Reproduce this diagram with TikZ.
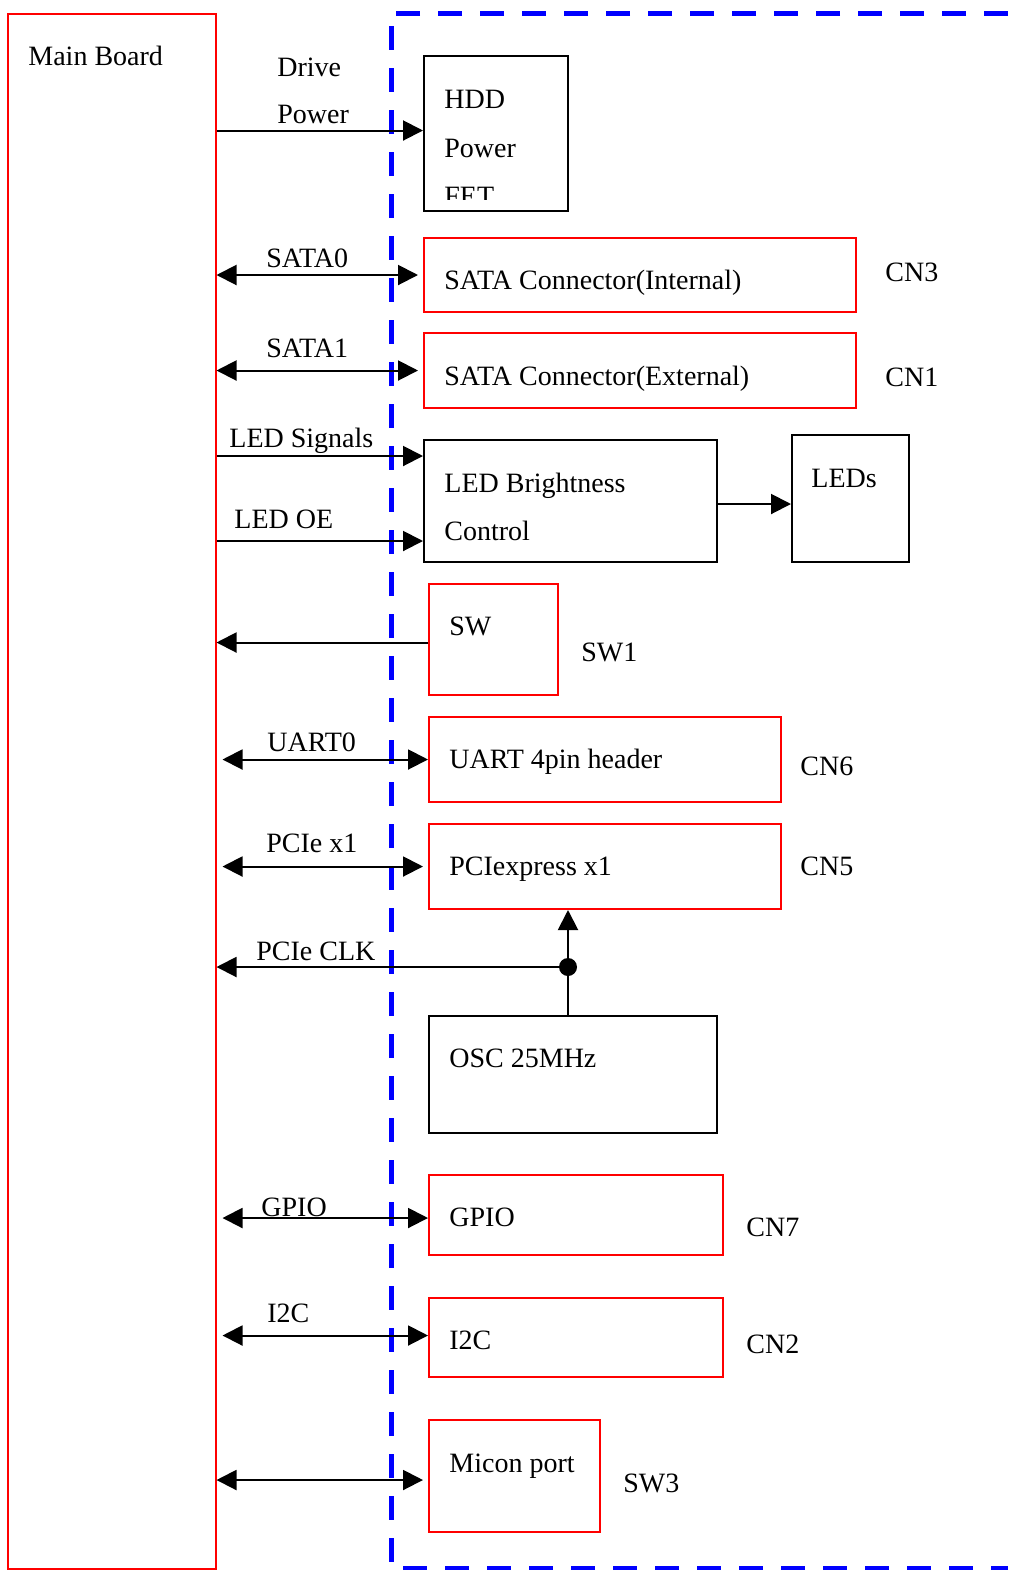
\documentclass[tikz,border=0pt]{standalone}
\usepackage{fontspec}
\setmainfont{Liberation Serif}
\usetikzlibrary{arrows.meta}

\begin{document}
\begin{tikzpicture}[x=0.5pt, y=-0.5pt,
  every node/.style={font=\fontsize{14}{16.8}\selectfont},
  txt/.style={anchor=base west, inner sep=0pt},
  blk/.style={draw=black, line width=1pt, anchor=north west, inner sep=0pt},
  rblk/.style={draw=red, line width=1pt, anchor=north west, inner sep=0pt},
  sig/.style={line width=1pt, -{Triangle[length=10pt, width=10pt]}},
  bus/.style={line width=1pt, {Triangle[length=10pt, width=10pt]}-{Triangle[length=10pt, width=10pt]}},
  jn/.style={circle, fill=black, inner sep=0pt, minimum size=9pt}]
  \useasboundingbox (0,0) rectangle (1008,1570);

  \draw[blue, line width=2.5pt, dash pattern=on 12pt off 9pt]
  (1008,13) -- (391,13) -- (391,1568) -- (1008,1568);

  \node[rblk, line width=0.75pt, minimum width=104pt, minimum height=777.5pt] (main) at (7,13) {};
  \node[txt] at (28,65) {Main Board};

  \node[blk, minimum width=72pt, minimum height=77.5pt] (hdd) at (423,55) {};
  \node[blk, minimum width=146.5pt, minimum height=61pt] (led) at (423,439) {};
  \node[blk, minimum width=58.5pt, minimum height=63.5pt] (leds) at (791,434) {};
  \node[blk, minimum width=144pt, minimum height=58.5pt] (osc) at (428,1015) {};

  \node[rblk, minimum width=216pt, minimum height=37pt] (sata0) at (423,237) {};
  \node[rblk, minimum width=216pt, minimum height=37.5pt] (sata1) at (423,332) {};
  \node[rblk, minimum width=64.5pt, minimum height=55.5pt] (sw) at (428,583) {};
  \node[rblk, minimum width=176pt, minimum height=42.5pt] (uart) at (428,716) {};
  \node[rblk, minimum width=176pt, minimum height=42.5pt] (pcie) at (428,823) {};
  \node[rblk, minimum width=147pt, minimum height=40pt] (gpio) at (428,1174) {};
  \node[rblk, minimum width=147pt, minimum height=39.5pt] (i2c) at (428,1297) {};
  \node[rblk, minimum width=85.5pt, minimum height=56pt] (micon) at (428,1419) {};

  \node[txt] at (444,108) {HDD};
  \node[txt] at (444,157) {Power};
  \begin{scope}
    \clip (423,55) rectangle (567,199);
    \node[txt] at (444,205) {FET};
  \end{scope}
  \node[txt] at (444,289) {SATA Connector(Internal)};
  \node[txt] at (444,385) {SATA Connector(External)};
  \node[txt] at (444,492) {LED Brightness};
  \node[txt] at (444,540) {Control};
  \node[txt] at (811,487) {LEDs};
  \node[txt] at (449,635) {SW};
  \node[txt] at (449,768) {UART 4pin header};
  \node[txt] at (449,875) {PCIexpress x1};
  \node[txt] at (449,1067) {OSC 25MHz};
  \node[txt] at (449,1226) {GPIO};
  \node[txt] at (449,1349) {I2C};
  \node[txt] at (449,1472) {Micon port};

  \node[txt] at (885,281) {CN3};
  \node[txt] at (885,386) {CN1};
  \node[txt] at (581,661) {SW1};
  \node[txt] at (800,775) {CN6};
  \node[txt] at (800,875) {CN5};
  \node[txt] at (746,1236) {CN7};
  \node[txt] at (746,1353) {CN2};
  \node[txt] at (623,1492) {SW3};

  \node[txt] at (277,76) {Drive};
  \node[txt] at (277,123) {Power};
  \node[txt] at (266,267) {SATA0};
  \node[txt] at (266,357) {SATA1};
  \node[txt] at (229,447) {LED Signals};
  \node[txt] at (234,528) {LED OE};
  \node[txt] at (267,751) {UART0};
  \node[txt] at (266,852) {PCIe x1};
  \node[txt] at (256,960) {PCIe CLK};
  \node[txt] at (261,1216) {GPIO};
  \node[txt] at (267,1322) {I2C};

  \draw[sig] ([yshift=1.5pt]hdd.west -| main.east) -- ([yshift=1.5pt]hdd.west);
  \draw[bus, shorten >=2.5pt] (sata0.west -| main.east) -- (sata0.west);
  \draw[bus, shorten >=2.5pt] (sata1.west -| main.east) -- (sata1.west);
  \draw[sig] ([yshift=22.5pt]led.west -| main.east) -- ([yshift=22.5pt]led.west);
  \draw[sig] ([yshift=-20pt]led.west -| main.east) -- ([yshift=-20pt]led.west);
  \draw[sig] ([yshift=-1.5pt]led.east) -- ([yshift=-1.5pt]led.east -| leds.west);
  \draw[sig] ([yshift=-1.5pt]sw.west) -- ([yshift=-1.5pt]sw.west -| main.east);
  \draw[bus, shorten <=3pt] (uart.west -| main.east) -- (uart.west);
  \draw[bus, shorten <=3pt, shorten >=2.5pt] (pcie.west -| main.east) -- (pcie.west);
  \draw[bus, shorten <=3pt] ([yshift=-1.5pt]gpio.west -| main.east) -- ([yshift=-1.5pt]gpio.west);
  \draw[bus, shorten <=3pt] ([yshift=1pt]i2c.west -| main.east) -- ([yshift=1pt]i2c.west);
  \draw[bus, shorten >=2.5pt] ([yshift=-2pt]micon.west -| main.east) -- ([yshift=-2pt]micon.west);

  \node[jn] (clk) at (568,967) {};
  \draw[line width=1pt] (clk |- osc.north) -- (clk);
  \draw[sig] (clk) -- (clk |- pcie.south);
  \draw[sig] (clk) -- (clk -| main.east);
\end{tikzpicture}
\end{document}
